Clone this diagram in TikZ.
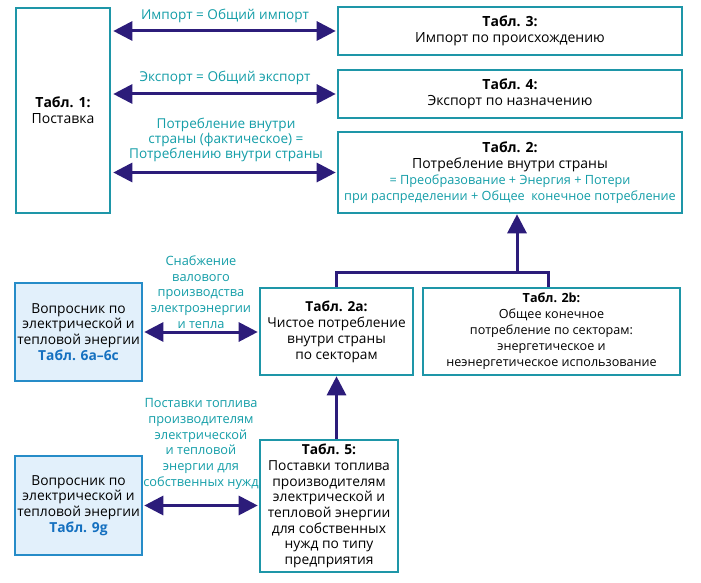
\documentclass[tikz,border=0pt]{standalone}
\usepackage{fontspec}
\setmainfont{Open Sans}
\usetikzlibrary{arrows.meta}
\definecolor{boxteal}{RGB}{30,150,168}
\definecolor{txtteal}{RGB}{20,158,168}
\definecolor{arrind}{RGB}{44,28,122}
\definecolor{qfill}{RGB}{226,240,251}
\definecolor{qborder}{RGB}{38,140,200}
\definecolor{qtext}{RGB}{20,112,192}
\newcommand{\fs}[2]{\fontsize{#1}{#2}\selectfont}
\tikzset{
  tbox/.style={draw=boxteal, line width=2.6pt, fill=white, align=center, inner sep=1pt, font=\fs{14}{16}},
  qbox/.style={draw=qborder, line width=2.6pt, fill=qfill, align=center, inner sep=1pt, font=\fs{13.8}{15.8}},
  conn/.style={draw=arrind, line width=3pt},
  darr/.style={conn, {Triangle[length=19pt,width=19pt]}-{Triangle[length=19pt,width=19pt]}},
  uarr/.style={conn, -{Triangle[length=19pt,width=19pt]}},
  lbl/.style={text=txtteal, align=center, font=\fs{12.8}{15.7}},
}
\begin{document}
\begin{tikzpicture}[x=1pt,y=-1pt]
\useasboundingbox[fill=white] (0,0) rectangle (701,583);
\node[tbox, minimum width=94pt, minimum height=205pt] (t1) at (63,110.5) {\textbf{Табл. 1:}\\Поставка};
\node[tbox, minimum width=344pt, minimum height=48pt] (t3) at (510,31) {\textbf{Табл. 3:}\\Импорт по происхождению};
\node[tbox, minimum width=344pt, minimum height=48pt] (t4) at (510,94) {\textbf{Табл. 4:}\\Экспорт по назначению};
\node[tbox, minimum width=344pt, minimum height=81pt] (t2) at (510,172.5) {\textbf{Табл. 2:}\\Потребление внутри страны\\{\fs{12.7}{16}\textcolor{txtteal}{= Преобразование + Энергия + Потери}}\\{\fs{12.7}{16}\textcolor{txtteal}{при распределении + Общее\ \ конечное потребление}}};
\node[tbox, font=\fs{13.7}{16}, minimum width=153pt, minimum height=87pt] (t2a) at (336.5,331.5) {\textbf{Табл. 2a:}\\Чистое потребление\\внутри страны\\по секторам};
\node[tbox, font=\fs{12.6}{16}, minimum width=257pt, minimum height=87pt] (t2b) at (551.5,331.5) {\textbf{Табл. 2b:}\\Общее конечное\\потребление по секторам:\\энергетическое и\\неэнергетическое использование};
\node[qbox, minimum width=127pt, minimum height=98pt] (q1) at (78.5,332) {Вопросник по\\электрической и\\тепловой энергии\\\textcolor{qtext}{\textbf{Табл. 6a–6c}}};
\node[tbox, font=\fs{13.8}{15.7}, minimum width=138pt, minimum height=132pt] (t5) at (329,506) {\textbf{Табл. 5:}\\Поставки топлива\\производителям\\электрической и\\тепловой энергии\\для собственных\\нужд по типу\\предприятия};
\node[qbox, minimum width=127pt, minimum height=99pt] (q2) at (78.5,505.5) {Вопросник по\\электрической и\\тепловой энергии\\\textcolor{qtext}{\textbf{Табл. 9g}}};
% top arrows
\draw[darr, shorten <=2pt, shorten >=1pt] (t3.west -| t1.east) -- (t3.west);
\draw[darr, shorten <=2pt, shorten >=1pt] (t4.west -| t1.east) -- (t4.west);
\draw[darr, shorten <=2pt, shorten >=1pt] (t2.west -| t1.east) -- (t2.west);
\node[lbl, font=\fs{13.6}{16}] (l1) at (225,16) {Импорт = Общий импорт};
\node[lbl, font=\fs{13.6}{16}] (l2) at (225,78) {Экспорт = Общий экспорт};
\node[lbl, font=\fs{13.6}{12.5}] (l3) at (226,140) {Потребление внутри\\страны (фактическое) =\\Потреблению внутри страны};
% middle
\coordinate (jl) at (336.5,272);
\coordinate (jr) at (548,272);
\coordinate (jm) at (517,272);
\draw[conn] (t2a.north -| jl) -- (jl) -- (jr) -- (t2b.north -| jr);
\draw[uarr] (jm) -- (t2.south -| jm);
\draw[uarr] (t5.north -| t2a.south) -- (t2a.south);
% left arrows
\draw[darr, shorten <=1pt, shorten >=1pt] (q1.east) -- (q1.east -| t2a.west);
\draw[darr, shorten <=1pt, shorten >=1pt] (q2.east) -- (q2.east -| t5.west);
\node[lbl] (l4) at (201,292) {Снабжение\\валового\\производства\\электроэнергии\\и тепла};
\node[lbl] (l5) at (201,444) {Поставки топлива\\производителям\\электрической\\и тепловой\\энергии для\\собственных нужд};
\end{tikzpicture}
\end{document}
